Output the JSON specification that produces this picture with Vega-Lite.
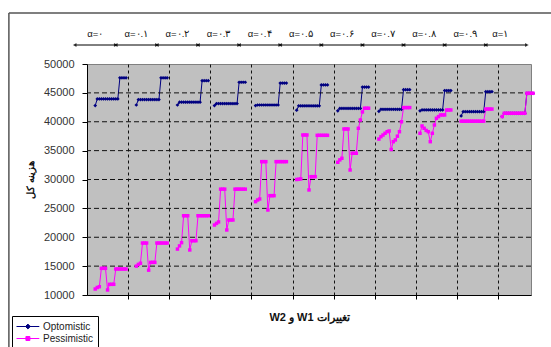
{
"$schema":"https://vega.github.io/schema/vega-lite/v6.json",
"width":444,"height":231,
"autosize":{"type":"none"},
"padding":{"left":87,"top":64,"right":20,"bottom":52},
"background":"white",
"config":{"view":{"fill":"#c0c0c0","stroke":"#808080","strokeWidth":1},"font":"Liberation Sans"},
"resolve":{"axis":{"x":"independent","y":"independent"}},
"data":{"values":[
{"g":0,"k":4,"Optomistic":42800,"Pessimistic":11040},{"g":0,"k":5,"Optomistic":43950,"Pessimistic":11300},{"g":0,"k":6,"Optomistic":43950,"Pessimistic":11440},{"g":0,"k":7,"Optomistic":43950,"Pessimistic":14620},{"g":0,"k":8,"Optomistic":43950,"Pessimistic":14620},{"g":0,"k":9,"Optomistic":43950,"Pessimistic":14620},{"g":0,"k":10,"Optomistic":43950,"Pessimistic":10870},{"g":0,"k":11,"Optomistic":43950,"Pessimistic":11850},{"g":0,"k":12,"Optomistic":43950,"Pessimistic":11850},{"g":0,"k":13,"Optomistic":43950,"Pessimistic":11850},{"g":0,"k":14,"Optomistic":43950,"Pessimistic":14500},{"g":0,"k":15,"Optomistic":43950,"Pessimistic":14500},{"g":0,"k":16,"Optomistic":47600,"Pessimistic":14500},{"g":0,"k":17,"Optomistic":47600,"Pessimistic":14500},{"g":0,"k":18,"Optomistic":47600,"Pessimistic":14500},{"g":0,"k":19,"Optomistic":47600,"Pessimistic":14500},
{"g":1,"k":24,"Optomistic":42900,"Pessimistic":15000},{"g":1,"k":25,"Optomistic":43850,"Pessimistic":15300},{"g":1,"k":26,"Optomistic":43850,"Pessimistic":15500},{"g":1,"k":27,"Optomistic":43850,"Pessimistic":19000},{"g":1,"k":28,"Optomistic":43850,"Pessimistic":19000},{"g":1,"k":29,"Optomistic":43850,"Pessimistic":19000},{"g":1,"k":30,"Optomistic":43850,"Pessimistic":14300},{"g":1,"k":31,"Optomistic":43850,"Pessimistic":15650},{"g":1,"k":32,"Optomistic":43850,"Pessimistic":15650},{"g":1,"k":33,"Optomistic":43850,"Pessimistic":15650},{"g":1,"k":34,"Optomistic":43850,"Pessimistic":19000},{"g":1,"k":35,"Optomistic":43850,"Pessimistic":19000},{"g":1,"k":36,"Optomistic":47600,"Pessimistic":19000},{"g":1,"k":37,"Optomistic":47600,"Pessimistic":19000},{"g":1,"k":38,"Optomistic":47600,"Pessimistic":19000},{"g":1,"k":39,"Optomistic":47600,"Pessimistic":19000},
{"g":2,"k":44,"Optomistic":42900,"Pessimistic":17950},{"g":2,"k":45,"Optomistic":43380,"Pessimistic":18500},{"g":2,"k":46,"Optomistic":43380,"Pessimistic":19060},{"g":2,"k":47,"Optomistic":43380,"Pessimistic":23730},{"g":2,"k":48,"Optomistic":43380,"Pessimistic":23730},{"g":2,"k":49,"Optomistic":43380,"Pessimistic":23730},{"g":2,"k":50,"Optomistic":43380,"Pessimistic":17800},{"g":2,"k":51,"Optomistic":43380,"Pessimistic":19400},{"g":2,"k":52,"Optomistic":43380,"Pessimistic":19400},{"g":2,"k":53,"Optomistic":43380,"Pessimistic":19400},{"g":2,"k":54,"Optomistic":43380,"Pessimistic":23730},{"g":2,"k":55,"Optomistic":43380,"Pessimistic":23730},{"g":2,"k":56,"Optomistic":47120,"Pessimistic":23730},{"g":2,"k":57,"Optomistic":47120,"Pessimistic":23730},{"g":2,"k":58,"Optomistic":47120,"Pessimistic":23730},{"g":2,"k":59,"Optomistic":47120,"Pessimistic":23730},
{"g":3,"k":62,"Optomistic":42800,"Pessimistic":22120},{"g":3,"k":63,"Optomistic":43150,"Pessimistic":22400},{"g":3,"k":64,"Optomistic":43150,"Pessimistic":22650},{"g":3,"k":65,"Optomistic":43150,"Pessimistic":28330},{"g":3,"k":66,"Optomistic":43150,"Pessimistic":28330},{"g":3,"k":67,"Optomistic":43150,"Pessimistic":28330},{"g":3,"k":68,"Optomistic":43150,"Pessimistic":21260},{"g":3,"k":69,"Optomistic":43150,"Pessimistic":22990},{"g":3,"k":70,"Optomistic":43150,"Pessimistic":22990},{"g":3,"k":71,"Optomistic":43150,"Pessimistic":22990},{"g":3,"k":72,"Optomistic":43150,"Pessimistic":28330},{"g":3,"k":73,"Optomistic":43150,"Pessimistic":28330},{"g":3,"k":74,"Optomistic":46840,"Pessimistic":28330},{"g":3,"k":75,"Optomistic":46840,"Pessimistic":28330},{"g":3,"k":76,"Optomistic":46840,"Pessimistic":28330},{"g":3,"k":77,"Optomistic":46840,"Pessimistic":28330},
{"g":4,"k":82,"Optomistic":42800,"Pessimistic":26160},{"g":4,"k":83,"Optomistic":42900,"Pessimistic":26450},{"g":4,"k":84,"Optomistic":42900,"Pessimistic":26630},{"g":4,"k":85,"Optomistic":42900,"Pessimistic":33090},{"g":4,"k":86,"Optomistic":42900,"Pessimistic":33090},{"g":4,"k":87,"Optomistic":42900,"Pessimistic":33090},{"g":4,"k":88,"Optomistic":42900,"Pessimistic":24720},{"g":4,"k":89,"Optomistic":42900,"Pessimistic":27200},{"g":4,"k":90,"Optomistic":42900,"Pessimistic":27200},{"g":4,"k":91,"Optomistic":42900,"Pessimistic":27200},{"g":4,"k":92,"Optomistic":42900,"Pessimistic":33090},{"g":4,"k":93,"Optomistic":42900,"Pessimistic":33090},{"g":4,"k":94,"Optomistic":46700,"Pessimistic":33090},{"g":4,"k":95,"Optomistic":46700,"Pessimistic":33090},{"g":4,"k":96,"Optomistic":46700,"Pessimistic":33090},{"g":4,"k":97,"Optomistic":46700,"Pessimistic":33090},
{"g":5,"k":102,"Optomistic":42000,"Pessimistic":30000},{"g":5,"k":103,"Optomistic":42750,"Pessimistic":30050},{"g":5,"k":104,"Optomistic":42750,"Pessimistic":30100},{"g":5,"k":105,"Optomistic":42750,"Pessimistic":37710},{"g":5,"k":106,"Optomistic":42750,"Pessimistic":37710},{"g":5,"k":107,"Optomistic":42750,"Pessimistic":37710},{"g":5,"k":108,"Optomistic":42750,"Pessimistic":28190},{"g":5,"k":109,"Optomistic":42750,"Pessimistic":30490},{"g":5,"k":110,"Optomistic":42750,"Pessimistic":30490},{"g":5,"k":111,"Optomistic":42750,"Pessimistic":30490},{"g":5,"k":112,"Optomistic":42750,"Pessimistic":37650},{"g":5,"k":113,"Optomistic":42750,"Pessimistic":37650},{"g":5,"k":114,"Optomistic":46370,"Pessimistic":37650},{"g":5,"k":115,"Optomistic":46370,"Pessimistic":37650},{"g":5,"k":116,"Optomistic":46370,"Pessimistic":37650},{"g":5,"k":117,"Optomistic":46370,"Pessimistic":37650},
{"g":6,"k":122,"Optomistic":41900,"Pessimistic":32980},{"g":6,"k":123,"Optomistic":42300,"Pessimistic":33400},{"g":6,"k":124,"Optomistic":42300,"Pessimistic":33680},{"g":6,"k":125,"Optomistic":42300,"Pessimistic":38750},{"g":6,"k":126,"Optomistic":42300,"Pessimistic":38750},{"g":6,"k":127,"Optomistic":42300,"Pessimistic":38750},{"g":6,"k":128,"Optomistic":42300,"Pessimistic":31650},{"g":6,"k":129,"Optomistic":42300,"Pessimistic":34540},{"g":6,"k":130,"Optomistic":42300,"Pessimistic":34540},{"g":6,"k":131,"Optomistic":42300,"Pessimistic":34540},{"g":6,"k":132,"Optomistic":42300,"Pessimistic":38870},{"g":6,"k":133,"Optomistic":42300,"Pessimistic":40300},{"g":6,"k":134,"Optomistic":46000,"Pessimistic":41700},{"g":6,"k":135,"Optomistic":46000,"Pessimistic":42340},{"g":6,"k":136,"Optomistic":46000,"Pessimistic":42340},{"g":6,"k":137,"Optomistic":46000,"Pessimistic":42340},
{"g":7,"k":142,"Optomistic":41800,"Pessimistic":37000},{"g":7,"k":143,"Optomistic":42150,"Pessimistic":37420},{"g":7,"k":144,"Optomistic":42150,"Pessimistic":37700},{"g":7,"k":145,"Optomistic":42150,"Pessimistic":38000},{"g":7,"k":146,"Optomistic":42150,"Pessimistic":38280},{"g":7,"k":147,"Optomistic":42150,"Pessimistic":38400},{"g":7,"k":148,"Optomistic":42150,"Pessimistic":35200},{"g":7,"k":149,"Optomistic":42150,"Pessimistic":36550},{"g":7,"k":150,"Optomistic":42150,"Pessimistic":36850},{"g":7,"k":151,"Optomistic":42150,"Pessimistic":37500},{"g":7,"k":152,"Optomistic":42150,"Pessimistic":38280},{"g":7,"k":153,"Optomistic":42150,"Pessimistic":40000},{"g":7,"k":154,"Optomistic":45560,"Pessimistic":42450},{"g":7,"k":155,"Optomistic":45560,"Pessimistic":42450},{"g":7,"k":156,"Optomistic":45560,"Pessimistic":42450},{"g":7,"k":157,"Optomistic":45560,"Pessimistic":42450},
{"g":8,"k":162,"Optomistic":41900,"Pessimistic":38000},{"g":8,"k":163,"Optomistic":42050,"Pessimistic":39270},{"g":8,"k":164,"Optomistic":42050,"Pessimistic":38870},{"g":8,"k":165,"Optomistic":42050,"Pessimistic":38500},{"g":8,"k":166,"Optomistic":42050,"Pessimistic":38280},{"g":8,"k":167,"Optomistic":42050,"Pessimistic":36550},{"g":8,"k":168,"Optomistic":42050,"Pessimistic":38000},{"g":8,"k":169,"Optomistic":42050,"Pessimistic":39440},{"g":8,"k":170,"Optomistic":42050,"Pessimistic":40600},{"g":8,"k":171,"Optomistic":42050,"Pessimistic":40890},{"g":8,"k":172,"Optomistic":42050,"Pessimistic":41180},{"g":8,"k":173,"Optomistic":42050,"Pessimistic":41180},{"g":8,"k":174,"Optomistic":45400,"Pessimistic":41180},{"g":8,"k":175,"Optomistic":45400,"Pessimistic":42040},{"g":8,"k":176,"Optomistic":45400,"Pessimistic":42040},{"g":8,"k":177,"Optomistic":45400,"Pessimistic":42040},
{"g":9,"k":182,"Optomistic":41000,"Pessimistic":40100},{"g":9,"k":183,"Optomistic":41750,"Pessimistic":40100},{"g":9,"k":184,"Optomistic":41750,"Pessimistic":40100},{"g":9,"k":185,"Optomistic":41750,"Pessimistic":40100},{"g":9,"k":186,"Optomistic":41750,"Pessimistic":40100},{"g":9,"k":187,"Optomistic":41750,"Pessimistic":40100},{"g":9,"k":188,"Optomistic":41750,"Pessimistic":40100},{"g":9,"k":189,"Optomistic":41750,"Pessimistic":40100},{"g":9,"k":190,"Optomistic":41750,"Pessimistic":40100},{"g":9,"k":191,"Optomistic":41750,"Pessimistic":40100},{"g":9,"k":192,"Optomistic":41750,"Pessimistic":40100},{"g":9,"k":193,"Optomistic":41750,"Pessimistic":40100},{"g":9,"k":194,"Optomistic":45200,"Pessimistic":42200},{"g":9,"k":195,"Optomistic":45200,"Pessimistic":42200},{"g":9,"k":196,"Optomistic":45200,"Pessimistic":42200},{"g":9,"k":197,"Optomistic":45200,"Pessimistic":42200},
{"g":10,"k":202,"Optomistic":40900,"Pessimistic":40900},{"g":10,"k":203,"Optomistic":41470,"Pessimistic":41470},{"g":10,"k":204,"Optomistic":41470,"Pessimistic":41470},{"g":10,"k":205,"Optomistic":41470,"Pessimistic":41470},{"g":10,"k":206,"Optomistic":41470,"Pessimistic":41470},{"g":10,"k":207,"Optomistic":41470,"Pessimistic":41470},{"g":10,"k":208,"Optomistic":41470,"Pessimistic":41470},{"g":10,"k":209,"Optomistic":41470,"Pessimistic":41470},{"g":10,"k":210,"Optomistic":41470,"Pessimistic":41470},{"g":10,"k":211,"Optomistic":41470,"Pessimistic":41470},{"g":10,"k":212,"Optomistic":41470,"Pessimistic":41470},{"g":10,"k":213,"Optomistic":41470,"Pessimistic":41470},{"g":10,"k":214,"Optomistic":44930,"Pessimistic":44930},{"g":10,"k":215,"Optomistic":44930,"Pessimistic":44930},{"g":10,"k":216,"Optomistic":44930,"Pessimistic":44930},{"g":10,"k":217,"Optomistic":44930,"Pessimistic":44930}
]},
"layer":[
{"transform":[{"fold":["Optomistic","Pessimistic"],"as":["series","value"]}],
 "mark":{"type":"line","strokeWidth":1,"clip":false},
 "encoding":{
  "x":{"field":"k","type":"quantitative","title":"W2 و W1 تغییرات","scale":{"domain":[0,216],"nice":false,"zero":false},
   "axis":{"orient":"bottom","values":[20,40,60,80,100,120,140,160,180,200],"labels":false,"grid":true,"gridColor":"#111","gridDash":[3,3],"gridWidth":1,"ticks":true,"tickSize":4,"tickColor":"#000","domainColor":"#000","titleFontSize":11,"titleFontWeight":"bold","titleColor":"#111","titlePadding":12}},
  "y":{"field":"value","type":"quantitative","title":"هزینه کل","scale":{"domain":[10000,50000],"nice":false,"zero":false},
   "axis":{"orient":"left","values":[10000,15000,20000,25000,30000,35000,40000,45000,50000],"format":"d","labelOverlap":false,"labelFlush":false,"grid":false,"tickSize":5,"tickColor":"#000","domainColor":"#000","labelFontSize":11,"labelColor":"#333","labelPadding":8,"titleFontSize":10,"titleFontWeight":"bold","titleColor":"#111","titlePadding":8}},
  "color":{"field":"series","type":"nominal","scale":{"domain":["Optomistic","Pessimistic"],"range":["#000080","#ff00ff"]},
   "legend":{"orient":"none","legendX":-75,"legendY":252,"title":null,"strokeColor":"#000","fillColor":"white","padding":4,"rowPadding":0,"labelFontSize":10,"labelColor":"#222","symbolSize":144,"labelOffset":14,
    "encode":{"symbols":{"update":{"shape":{"signal":"datum.value === 'Optomistic' ? 'M-1,0H2.8M0.9,-0.4L1.3,0L0.9,0.4L0.5,0Z' : 'M-1,0H2.8M0.57,-0.33H1.23V0.33H0.57Z'"},"fill":{"scale":"color","field":"value"},"stroke":{"scale":"color","field":"value"},"strokeWidth":{"value":1},"opacity":{"value":1}}}}}},
  "detail":{"field":"g"}
 }},
{"data":{"values":[{"v":15000},{"v":20000},{"v":25000},{"v":30000},{"v":35000},{"v":40000},{"v":45000}]},
 "mark":{"type":"rule","color":"#111","strokeWidth":1,"strokeDash":[5,3]},
 "encoding":{"y":{"field":"v","type":"quantitative","axis":null}}},
{"mark":{"type":"point","shape":"diamond","filled":true,"color":"#000080","size":14,"opacity":1,"clip":false},
 "encoding":{
  "x":{"field":"k","type":"quantitative","axis":null},
  "y":{"field":"Optomistic","type":"quantitative","axis":null}
 }},
{"mark":{"type":"point","shape":"square","filled":true,"color":"#ff00ff","size":12,"opacity":1,"clip":false},
 "encoding":{
  "x":{"field":"k","type":"quantitative","axis":null},
  "y":{"field":"Pessimistic","type":"quantitative","axis":null}
 }},
{"data":{"values":[{"f":1}]},
 "mark":{"type":"rule","color":"#555","strokeWidth":1.5,"clip":false},
 "encoding":{"x":{"datum":-38,"axis":null},"y":{"datum":58830,"axis":null},"y2":{"datum":0}}},
{"data":{"values":[{"f":1}]},
 "mark":{"type":"rule","color":"#555","strokeWidth":1.5,"clip":false},
 "encoding":{"x":{"datum":-38,"axis":null},"x2":{"datum":240},"y":{"datum":58830,"axis":null}}},
{"data":{"values":[
 {"lab":"α=۰","a":-6,"b":14,"c":4},{"lab":"α=۰.۱","a":14,"b":34,"c":24},{"lab":"α=۰.۲","a":34,"b":54,"c":44},{"lab":"α=۰.۳","a":54,"b":74,"c":64},{"lab":"α=۰.۴","a":74,"b":94,"c":84},{"lab":"α=۰.۵","a":94,"b":114,"c":104},{"lab":"α=۰.۶","a":114,"b":134,"c":124},{"lab":"α=۰.۷","a":134,"b":154,"c":144},{"lab":"α=۰.۸","a":154,"b":174,"c":164},{"lab":"α=۰.۹","a":174,"b":194,"c":184},{"lab":"α=۱","a":194,"b":214,"c":201}]},
 "layer":[
  {"mark":{"type":"rule","color":"#000","strokeWidth":1,"clip":false},"encoding":{"x":{"field":"a","type":"quantitative","axis":null},"x2":{"field":"b"},"y":{"datum":53290,"axis":null}}},
  {"mark":{"type":"point","shape":"triangle-left","filled":true,"color":"#000","size":18,"clip":false},"encoding":{"x":{"field":"a","type":"quantitative","axis":null},"y":{"datum":53290,"axis":null}}},
  {"mark":{"type":"point","shape":"triangle-right","filled":true,"color":"#000","size":18,"clip":false},"encoding":{"x":{"field":"b","type":"quantitative","axis":null},"y":{"datum":53290,"axis":null}}},
  {"mark":{"type":"text","fontSize":9.5,"color":"#111","baseline":"middle","align":"center","clip":false},"encoding":{"x":{"field":"c","type":"quantitative","axis":null},"y":{"datum":55200,"axis":null},"text":{"field":"lab"}}}
 ]}
]
}
